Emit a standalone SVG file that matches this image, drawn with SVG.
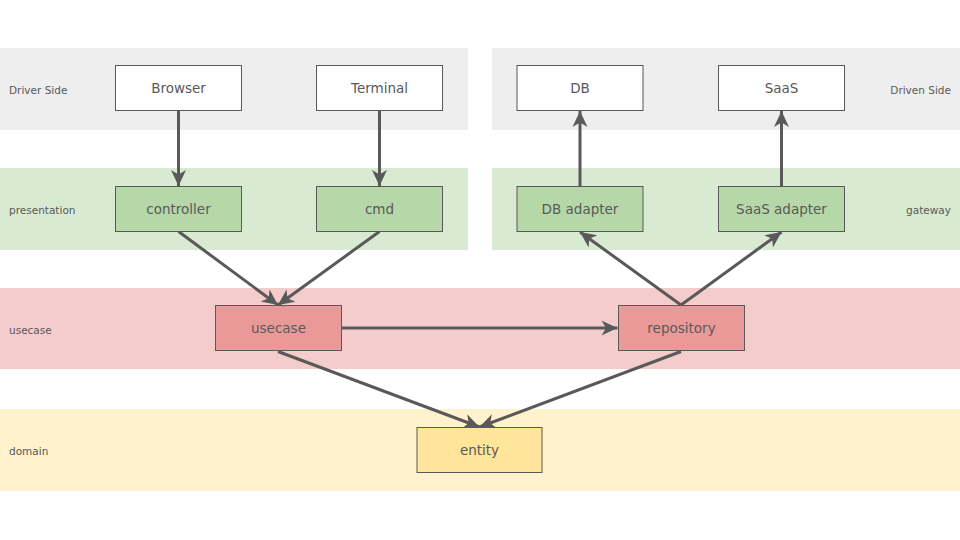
<svg xmlns="http://www.w3.org/2000/svg" width="960" height="540" viewBox="0 0 960 540">
<defs>
<style>
.node rect{stroke:#595959;stroke-width:1}
.node text{font-family:"DejaVu Sans","Noto Sans",sans-serif;font-size:13.5px;fill:#595959;text-anchor:middle}
.lbl{font-family:"DejaVu Sans","Noto Sans",sans-serif;font-size:10.5px;fill:#595959}
.edge{stroke:#595959;stroke-width:3;fill:none;marker-end:url(#ah)}
.white{fill:#ffffff}.green{fill:#b6d7a8}.pink{fill:#ea9999}.yellow{fill:#ffe599}
</style>
<marker id="ah" markerUnits="userSpaceOnUse" markerWidth="18" markerHeight="18" viewBox="0 0 18 18" refX="16" refY="9" orient="auto">
<path d="M0,1.5 L16,9 L0,16.5 L4.5,9 z" fill="#595959"/>
</marker>
</defs>
<g id="bands">
<rect x="0" y="48" width="468" height="82" fill="#eeeeee"/>
<rect x="492" y="48" width="468" height="82" fill="#eeeeee"/>
<rect x="0" y="168" width="468" height="82" fill="#d9ead3"/>
<rect x="492" y="168" width="468" height="82" fill="#d9ead3"/>
<rect x="0" y="288" width="960" height="81" fill="#f4cccc"/>
<rect x="0" y="409" width="960" height="82" fill="#fff2cc"/>
<text class="lbl" x="9" y="94">Driver Side</text>
<text class="lbl" x="9" y="214">presentation</text>
<text class="lbl" x="9" y="334">usecase</text>
<text class="lbl" x="9" y="455">domain</text>
<text class="lbl" x="951" y="94" text-anchor="end">Driven Side</text>
<text class="lbl" x="951" y="214" text-anchor="end">gateway</text>
</g>
<g id="connectors">
<line class="edge" x1="178.5" y1="110.5" x2="178.5" y2="186"/>
<line class="edge" x1="379.5" y1="110.5" x2="379.5" y2="186"/>
<line class="edge" x1="580" y1="186.5" x2="580" y2="111"/>
<line class="edge" x1="781.5" y1="186.5" x2="781.5" y2="111"/>
<line class="edge" x1="178.5" y1="231.5" x2="278" y2="305"/>
<line class="edge" x1="379.5" y1="231.5" x2="278" y2="305"/>
<line class="edge" x1="341.5" y1="328" x2="617.5" y2="328"/>
<line class="edge" x1="681" y1="305" x2="580" y2="232"/>
<line class="edge" x1="681" y1="305" x2="781.5" y2="232"/>
<line class="edge" x1="278" y1="351.5" x2="479.5" y2="427"/>
<line class="edge" x1="681" y1="351.5" x2="479.5" y2="427"/>
</g>
<g id="browser" class="node"><rect class="white" x="115.5" y="65.5" width="126" height="45"/><text x="178.5" y="93">Browser</text></g>
<g id="terminal" class="node"><rect class="white" x="316.5" y="65.5" width="126" height="45"/><text x="379.5" y="93">Terminal</text></g>
<g id="db" class="node"><rect class="white" x="517" y="65.5" width="126" height="45"/><text x="580" y="93">DB</text></g>
<g id="saas" class="node"><rect class="white" x="718.5" y="65.5" width="126" height="45"/><text x="781.5" y="93">SaaS</text></g>
<g id="controller" class="node"><rect class="green" x="115.5" y="186.5" width="126" height="45"/><text x="178.5" y="214">controller</text></g>
<g id="cmd" class="node"><rect class="green" x="316.5" y="186.5" width="126" height="45"/><text x="379.5" y="214">cmd</text></g>
<g id="db-adapter" class="node"><rect class="green" x="517" y="186.5" width="126" height="45"/><text x="580" y="214">DB adapter</text></g>
<g id="saas-adapter" class="node"><rect class="green" x="718.5" y="186.5" width="126" height="45"/><text x="781.5" y="214">SaaS adapter</text></g>
<g id="usecase" class="node"><rect class="pink" x="215.5" y="305.5" width="126" height="45"/><text x="278.5" y="333">usecase</text></g>
<g id="repository" class="node"><rect class="pink" x="618.5" y="305.5" width="126" height="45"/><text x="681.5" y="333">repository</text></g>
<g id="entity" class="node"><rect class="yellow" x="417" y="427.5" width="125" height="45"/><text x="479.5" y="455">entity</text></g>
</svg>
